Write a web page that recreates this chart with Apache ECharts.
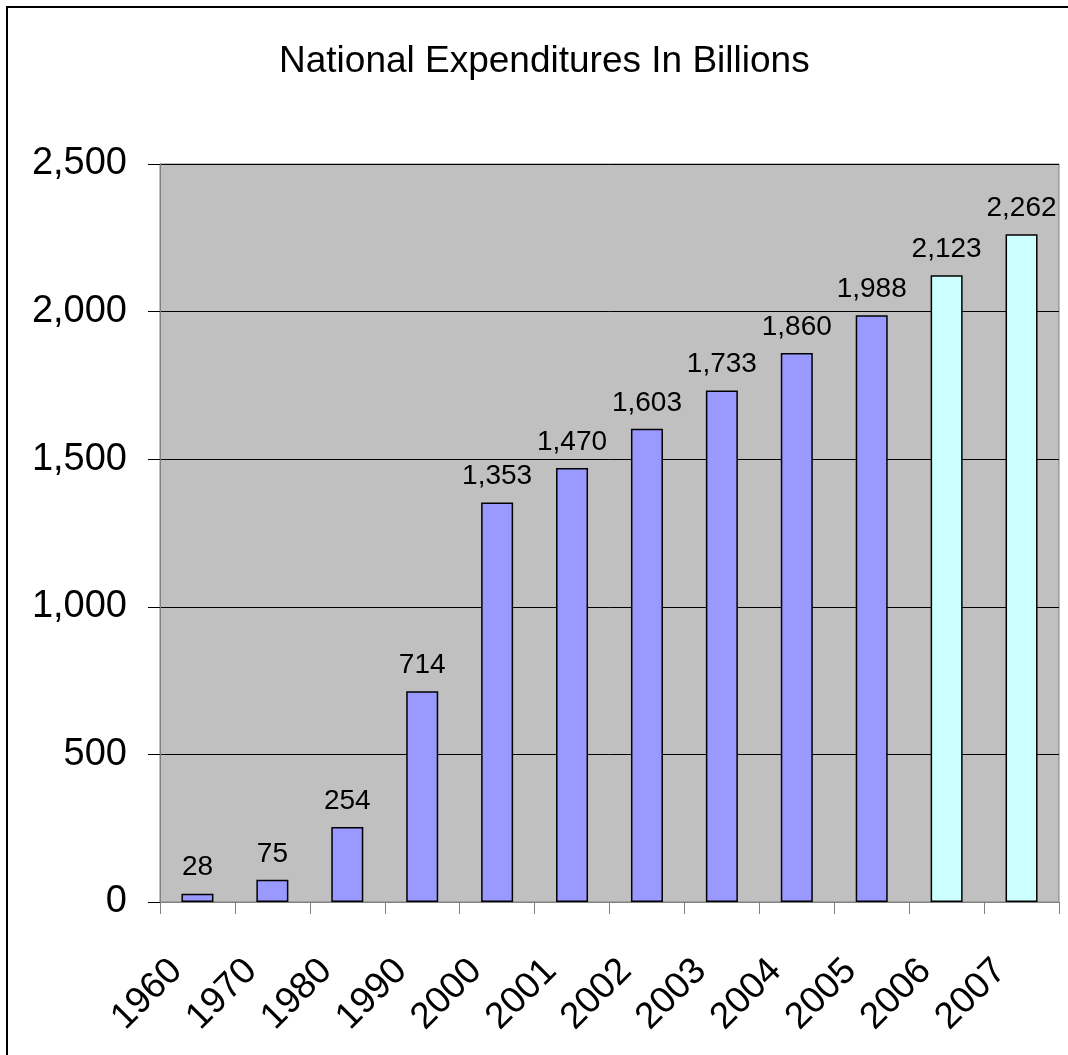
<!DOCTYPE html>
<html>
<head>
<meta charset="utf-8">
<title>National Expenditures In Billions</title>
<script src="https://cdn.jsdelivr.net/npm/echarts@6/dist/echarts.min.js"></script>
<style>
  html, body { margin: 0; padding: 0; background: #fff; }
  body { width: 1068px; height: 1055px; overflow: hidden; position: relative; }
  #frame {
    position: absolute; left: 6px; top: 6px; width: 1100px; height: 1100px;
    border-left: 2px solid #000; border-top: 2px solid #000; box-sizing: border-box;
  }
  #chart { position: absolute; left: 0; top: 0; width: 1068px; height: 1055px; }
</style>
</head>
<body>
<div id="frame"></div>
<div id="chart"></div>
<script>
// Expenditure by year, in billions of dollars
const years = ['1960', '1970', '1980', '1990', '2000', '2001', '2002', '2003', '2004', '2005', '2006', '2007'];
const spending = [28, 75, 254, 714, 1353, 1470, 1603, 1733, 1860, 1988, 2123, 2262];
// Years whose figures are projections (drawn in a lighter colour)
const projectedYears = ['2006', '2007'];
const yTicks = [0, 500, 1000, 1500, 2000, 2500];

const FONT = '"Liberation Sans", Arial, sans-serif';
const withCommas = v => String(v).replace(/\B(?=(\d{3})+(?!\d))/g, ',');

const barData = years.map((y, i) => ({
  value: spending[i],
  itemStyle: { color: projectedYears.includes(y) ? '#CCFFFF' : '#9999FF' }
}));

const chart = echarts.init(document.getElementById('chart'), null, { renderer: 'canvas' });
chart.setOption({
  animation: false,
  backgroundColor: 'transparent',
  title: {
    text: 'National Expenditures In Billions',
    left: 274,
    top: 38,
    textStyle: { fontFamily: FONT, fontSize: 37, fontWeight: 'normal', color: '#000' }
  },
  grid: {
    left: 160, top: 164, right: 9, bottom: 153,
    show: true, backgroundColor: '#C0C0C0', borderColor: '#808080', borderWidth: 1
  },
  xAxis: {
    type: 'category',
    data: years,
    axisLine: { lineStyle: { color: '#808080', width: 1 } },
    axisTick: { show: true, length: 12, lineStyle: { color: '#808080' } },
    axisLabel: {
      interval: 0, rotate: 45, margin: 42,
      padding: [0, 30, 0, 0],
      fontFamily: FONT, fontSize: 37, color: '#000'
    }
  },
  yAxis: {
    type: 'value',
    min: yTicks[0],
    max: yTicks[yTicks.length - 1],
    interval: yTicks[1] - yTicks[0],
    axisLine: { show: true, lineStyle: { color: '#808080', width: 1 } },
    axisTick: { show: true, length: 12, lineStyle: { color: '#000' } },
    splitLine: { lineStyle: { color: '#000', width: 1 } },
    axisLabel: {
      margin: 33, fontFamily: FONT, fontSize: 38, color: '#000',
      formatter: withCommas
    }
  },
  series: [{
    type: 'bar',
    data: barData,
    barWidth: 32,
    itemStyle: { borderColor: '#000', borderWidth: 1.5 },
    label: {
      show: true, position: 'top', distance: 12,
      fontFamily: FONT, fontSize: 28, color: '#000',
      formatter: p => withCommas(p.value)
    }
  }]
});
</script>
</body>
</html>
